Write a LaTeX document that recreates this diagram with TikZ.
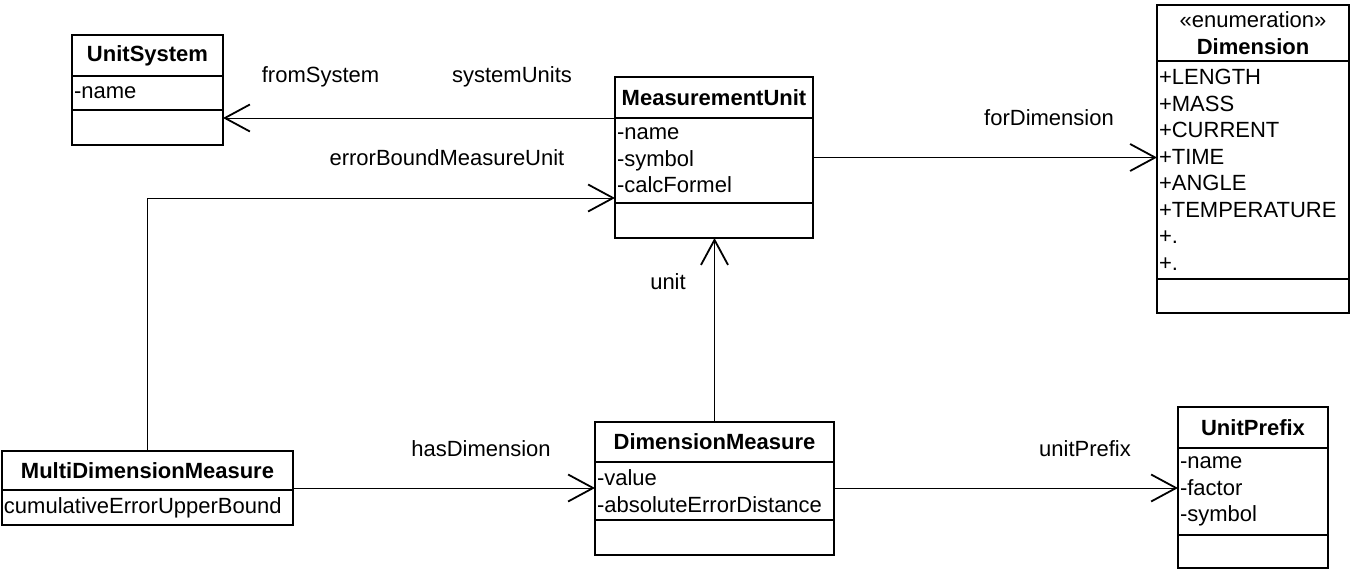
\documentclass[tikz,border=0pt]{standalone}
\usepackage{fontspec}
\setmainfont{Liberation Sans}
\usetikzlibrary{positioning,arrows.meta}

\newcommand{\umlfont}{\fontsize{22}{26.5}\selectfont}

\begin{document}
\begin{tikzpicture}[x=1pt,y=-1pt,
	classhead/.style={draw, line width=1.8pt, outer sep=0pt, inner sep=0pt,
		align=center, font=\umlfont\bfseries},
	classattr/.style={draw, line width=1.8pt, outer sep=0pt, inner xsep=2pt,
		inner ysep=0pt, align=left, font=\umlfont},
	assoc/.style={line width=1pt,
		-{Straight Barb[length=25pt,width=27pt,line width=1.8pt]}},
	rolelabel/.style={inner sep=0pt, font=\umlfont}]
	\useasboundingbox (0,0) rectangle (1351,570);

	% UnitSystem
	\node[classhead, minimum width=151pt, minimum height=41pt] (us) at (147.5,55.5) {UnitSystem};
	\node[classattr, text width=147pt, minimum height=34pt, below=0pt of us] (usattr) {-name};
	\node[classattr, text width=147pt, minimum height=35pt, below=0pt of usattr] (usops) {};

	% MeasurementUnit
	\node[classhead, minimum width=198pt, minimum height=41pt] (mu) at (714,97.5) {MeasurementUnit};
	\node[classattr, text width=194pt, minimum height=85pt, below=0pt of mu] (muattr) {-name\\-symbol\\-calcFormel};
	\node[classattr, text width=194pt, minimum height=35pt, below=0pt of muattr] (muops) {};

	% Dimension
	\node[classhead, minimum width=192pt, minimum height=56pt] (dim) at (1253,33)
		{{\mdseries «enumeration»}\\Dimension};
	\node[classattr, text width=188pt, minimum height=218pt, below=0pt of dim] (dimattr)
		{+LENGTH\\+MASS\\+CURRENT\\+TIME\\+ANGLE\\+TEMPERATURE\\+.\\+.};
	\node[classattr, text width=188pt, minimum height=34pt, below=0pt of dimattr] (dimops) {};

	% MultiDimensionMeasure
	\node[classhead, minimum width=291pt, minimum height=39pt] (mdm) at (147.5,470.5) {MultiDimensionMeasure};
	\node[classattr, text width=287pt, minimum height=35pt, below=0pt of mdm] (mdmattr) {cumulativeErrorUpperBound};

	% DimensionMeasure
	\node[classhead, minimum width=239pt, minimum height=40pt] (dm) at (714.5,442) {DimensionMeasure};
	\node[classattr, text width=235pt, minimum height=58pt, below=0pt of dm] (dmattr) {-value\\-absoluteErrorDistance};
	\node[classattr, text width=235pt, minimum height=35pt, below=0pt of dmattr] (dmops) {};

	% UnitPrefix
	\node[classhead, minimum width=150pt, minimum height=41pt] (up) at (1253,427.5) {UnitPrefix};
	\node[classattr, text width=146pt, minimum height=87pt, below=0pt of up] (upattr) {-name\\-factor\\-symbol};
	\node[classattr, text width=146pt, minimum height=33pt, below=0pt of upattr] (upops) {};

	% associations
	\draw[assoc] (mu.south west) -- (usops.east |- mu.south west);
	\draw[assoc] ([yshift=3pt]muattr.east) coordinate (fd) -- (fd -| dimattr.west);
	\draw[assoc] (mdm.north) |- ([yshift=5pt]muattr.south west);
	\draw[assoc] (dm.north) -- (dm.north |- muops.south);
	\draw[assoc] ([yshift=2pt]mdm.south east) coordinate (hd) -- (hd -| dmattr.west);
	\draw[assoc] (hd -| dmattr.east) -- (hd -| upattr.west);

	% role names
	\node[rolelabel] (lfrom) at (320.5,77) {fromSystem};
	\node[rolelabel] (lsys) at (512,77) {systemUnits};
	\node[rolelabel] (lerr) at (447,158) {errorBoundMeasureUnit};
	\node[rolelabel] (lfor) at (1049,118) {forDimension};
	\node[rolelabel] (lunit) at (668,282) {unit};
	\node[rolelabel] (lhas) at (481,449) {hasDimension};
	\node[rolelabel] (lpre) at (1085,449) {unitPrefix};
\end{tikzpicture}
\end{document}
